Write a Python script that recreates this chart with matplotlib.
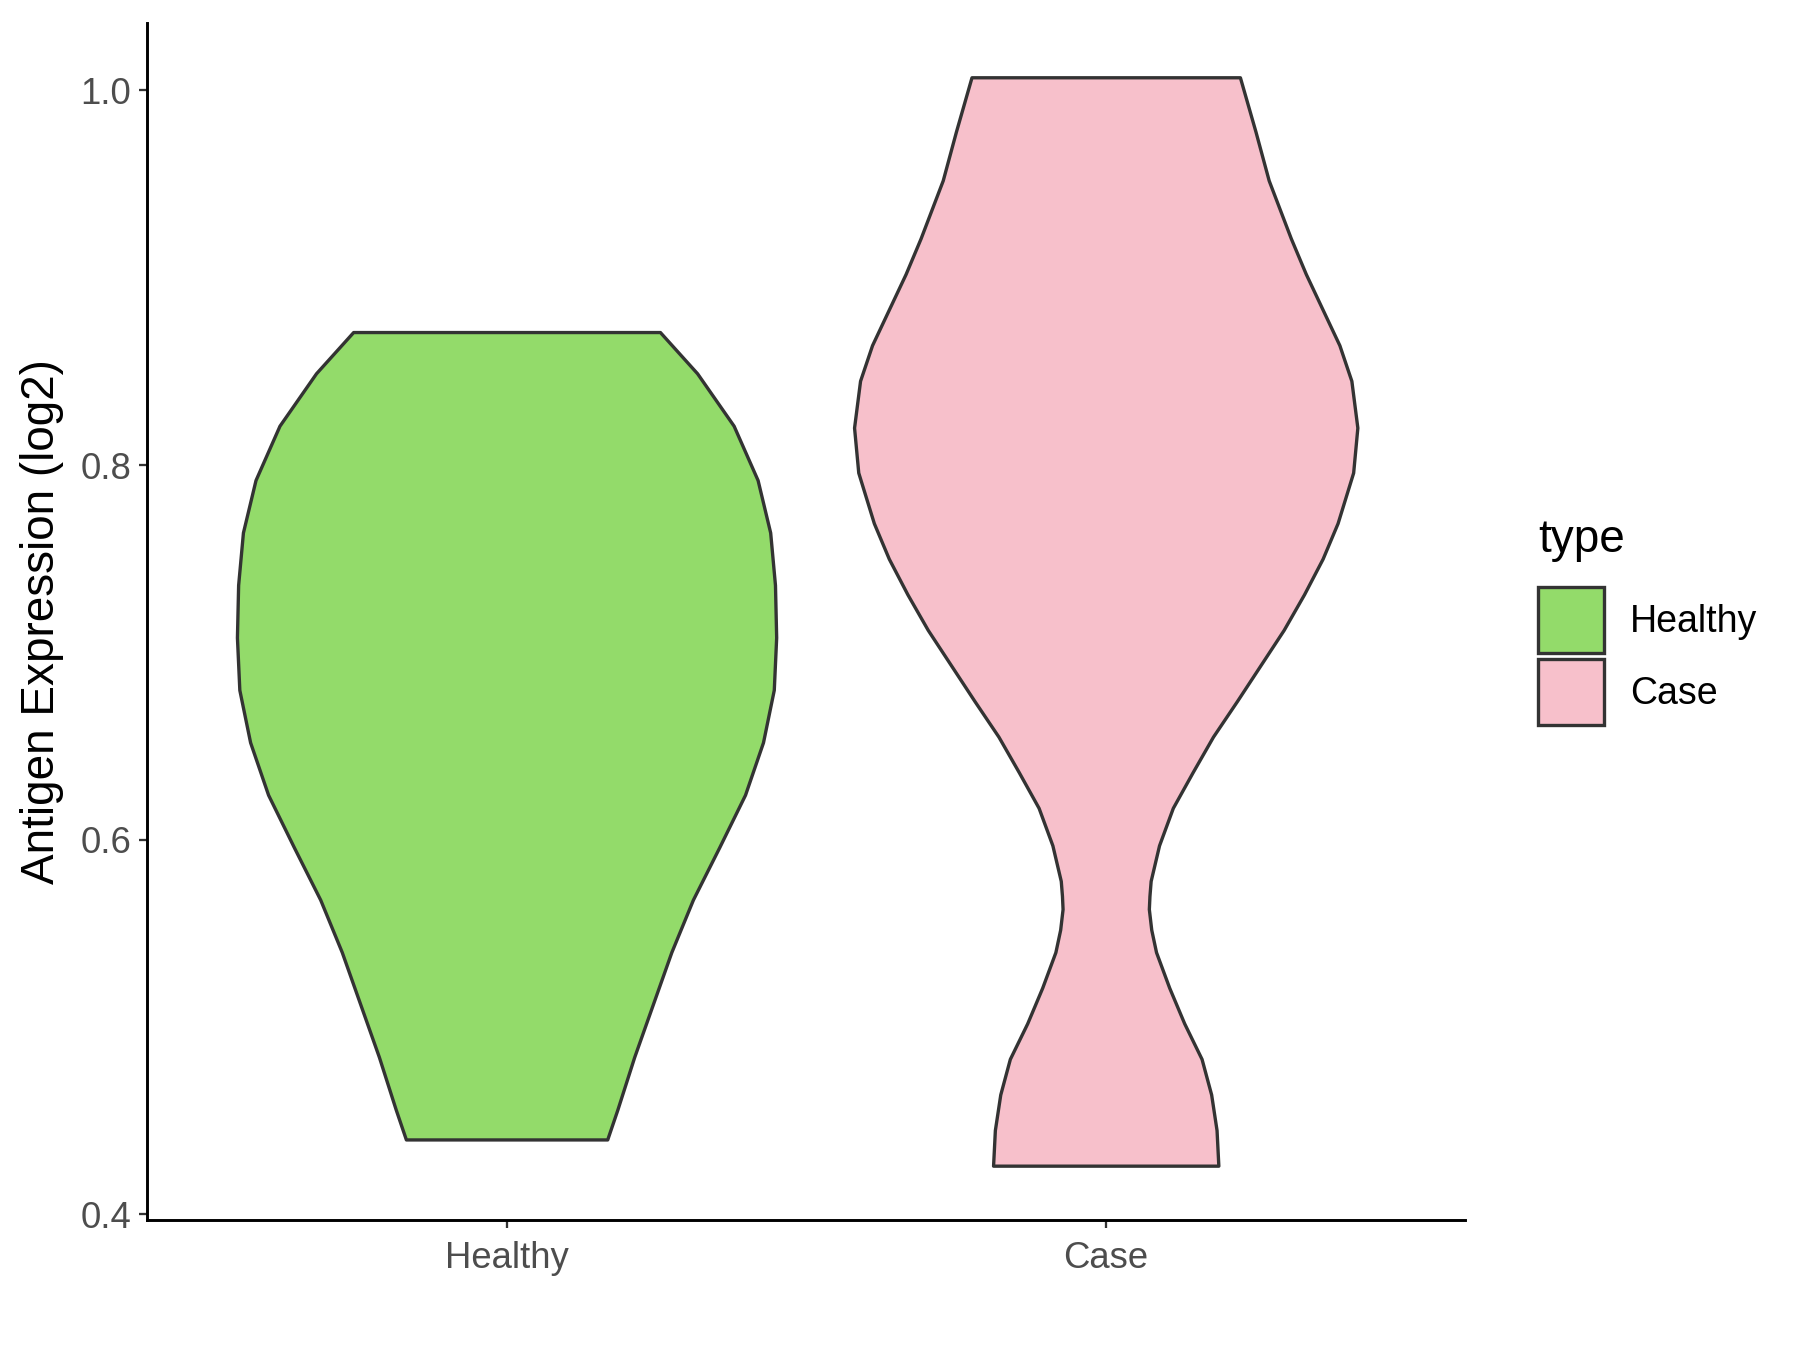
import matplotlib.pyplot as plt
from matplotlib.patches import Patch

plt.rcParams['font.family'] = ['Liberation Sans', 'DejaVu Sans']

categories = ['Healthy', 'Case']
fill_colors = ['#93DB6A', '#F7C0CB']

# violin outline: y level and half width (data units)
healthy_y = [0.871, 0.849, 0.821, 0.792, 0.764, 0.736, 0.708, 0.680, 0.652,
             0.624, 0.596, 0.568, 0.540, 0.512, 0.484, 0.456, 0.440]
healthy_w = [0.256, 0.318, 0.379, 0.419, 0.440, 0.448, 0.450, 0.446, 0.428,
             0.398, 0.355, 0.311, 0.275, 0.244, 0.213, 0.185, 0.168]

case_y = [1.007, 0.978, 0.952, 0.921, 0.902, 0.883, 0.864, 0.845, 0.820,
          0.796, 0.769, 0.750, 0.731, 0.712, 0.693, 0.674, 0.655, 0.636,
          0.617, 0.597, 0.578, 0.570, 0.563, 0.552, 0.540, 0.521, 0.502,
          0.483, 0.464, 0.445, 0.426]
case_w = [0.224, 0.250, 0.272, 0.309, 0.334, 0.362, 0.390, 0.410, 0.420,
          0.413, 0.387, 0.362, 0.331, 0.297, 0.258, 0.219, 0.179, 0.145,
          0.112, 0.089, 0.075, 0.073, 0.072, 0.076, 0.084, 0.106, 0.131,
          0.160, 0.176, 0.185, 0.188]

profiles = [(healthy_y, healthy_w), (case_y, case_w)]

fig = plt.figure(figsize=(12, 9), dpi=150)
ax = fig.add_axes([0.0817, 0.0963, 0.7323, 0.8867])

for i, (ys, ws) in enumerate(profiles):
    pos = i + 1
    left = [pos - w for w in ws]
    right = [pos + w for w in ws]
    ax.fill_betweenx(ys, left, right, facecolor=fill_colors[i],
                     edgecolor='#333333', linewidth=1.6, joinstyle='round')

ax.set_xlim(0.4, 2.6)
ax.set_ylim(0.397, 1.036)
ax.set_xticks([1, 2])
ax.set_xticklabels(categories)
ax.set_yticks([0.4, 0.6, 0.8, 1.0])
ax.set_yticklabels(['0.4', '0.6', '0.8', '1.0'])
ax.tick_params(colors='#333333', labelcolor='#4D4D4D', labelsize=17.5,
               length=4, width=1.1)
ax.tick_params(axis='x', pad=6)
ax.set_ylabel('Antigen Expression (log2)', fontsize=22, labelpad=8)

for side in ['top', 'right']:
    ax.spines[side].set_visible(False)
for side in ['left', 'bottom']:
    ax.spines[side].set_linewidth(1.4)
    ax.spines[side].set_color('black')

handles = [Patch(facecolor=c, edgecolor='#333333', linewidth=1.6, label=l)
           for c, l in zip(fill_colors, categories)]
leg = ax.legend(handles=handles, title='type', loc='center left',
                bbox_to_anchor=(1.03, 0.5), frameon=False, fontsize=18,
                title_fontsize=22, handlelength=1.75, handleheight=2.3,
                labelspacing=0.18, handletextpad=0.7)
leg._legend_box.align = 'left'
leg._legend_box.sep = 12

fig.savefig('out.png', dpi=150)
